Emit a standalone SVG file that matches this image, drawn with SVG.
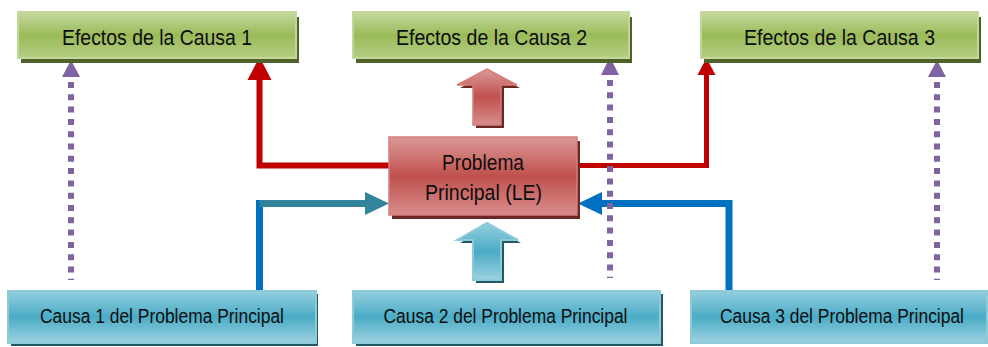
<svg xmlns="http://www.w3.org/2000/svg" width="988" height="347" viewBox="0 0 988 347">
<defs>
<linearGradient id="gGreen" x1="0" y1="0" x2="0" y2="1">
<stop offset="0" stop-color="#c6d9a0"/><stop offset="0.5" stop-color="#9bbb59"/><stop offset="1" stop-color="#b4cd83"/>
</linearGradient>
<linearGradient id="gRed" x1="0" y1="0" x2="0" y2="1">
<stop offset="0" stop-color="#dc9a98"/><stop offset="0.5" stop-color="#c0504d"/><stop offset="1" stop-color="#d88e8c"/>
</linearGradient>
<linearGradient id="gBlue" x1="0" y1="0" x2="0" y2="1">
<stop offset="0" stop-color="#94cfde"/><stop offset="0.5" stop-color="#4bacc6"/><stop offset="1" stop-color="#9dd2e0"/>
</linearGradient>
</defs>
<style>
.green{fill:url(#gGreen);stroke:#c3d79b;stroke-width:2}
.gshadow{fill:#4f6228}
.red{fill:url(#gRed);stroke:#d47f7d;stroke-width:1.5}
.rshadow{fill:#6b2725}
.blue{fill:url(#gBlue);stroke:#8fcadb;stroke-width:2}
.bshadow{fill:#215968}
.lbl{font-family:"Liberation Sans",Arial,sans-serif;font-size:22px;fill:#0d0d0d;text-anchor:middle}
.lbls{font-family:"Liberation Sans",Arial,sans-serif;font-size:21px;fill:#0d0d0d;text-anchor:middle}
.dot{fill:none;stroke:#8064a2;stroke-width:6;stroke-dasharray:6 6.3}
.pur{fill:#8064a2}
</style>
<g id="connectors">
<polyline points="389,165.5 259.5,165.5 259.5,79" fill="none" stroke="#c00000" stroke-width="6"/>
<polygon points="259.5,57 247.5,80 271.5,80" fill="#c00000"/>
<polyline points="577,165.5 706.5,165.5 706.5,73" fill="none" stroke="#c00000" stroke-width="5"/>
<polygon points="706.5,58 697.5,75 715.5,75" fill="#c00000"/>
<line x1="259.5" y1="291" x2="259.5" y2="200" stroke="#0070c0" stroke-width="7"/>
<line x1="259.5" y1="203.5" x2="367" y2="203.5" stroke="#31849b" stroke-width="7"/>
<polygon points="389,203.5 365,192 365,215" fill="#31849b"/>
<polyline points="729,291 729,203.5 600,203.5" fill="none" stroke="#0070c0" stroke-width="7"/>
<polygon points="578,203.5 602,192 602,215" fill="#0070c0"/>
<polygon class="rshadow" points="490,72 520,88 504,88 504,128 476,128 476,88 460,88"/>
<polygon class="red" points="487,69 517,85 501,85 501,125 473,125 473,85 457,85"/>
<polygon class="bshadow" points="490,226 521,243 504,243 504,283 476,283 476,243 460,243"/>
<polygon class="blue" points="487,223 518,240 501,240 501,280 473,280 473,240 457,240"/>
<line class="dot" x1="71" y1="82" x2="71" y2="280"/>
<polygon class="pur" points="71,60 62,77 80,77"/>
<line class="dot" x1="610" y1="80" x2="610" y2="278"/>
<polygon class="pur" points="610,57 601,75 619,75"/>
<line class="dot" x1="937" y1="82" x2="937" y2="280"/>
<polygon class="pur" points="937,60 928,77 946,77"/>
</g>
<g id="efecto1">
<rect class="gshadow" x="21" y="17" width="278" height="46"/>
<rect class="green" x="18" y="12" width="278" height="46"/>
<text class="lbl" x="157" y="45" textLength="190" lengthAdjust="spacingAndGlyphs">Efectos de la Causa 1</text>
</g>
<g id="efecto2">
<rect class="gshadow" x="356" y="17" width="276" height="46"/>
<rect class="green" x="353" y="12" width="276" height="46"/>
<text class="lbl" x="491.5" y="45" textLength="191" lengthAdjust="spacingAndGlyphs">Efectos de la Causa 2</text>
</g>
<g id="efecto3">
<rect class="gshadow" x="704" y="17" width="277" height="46"/>
<rect class="green" x="701" y="12" width="277" height="46"/>
<text class="lbl" x="839.5" y="45" textLength="191" lengthAdjust="spacingAndGlyphs">Efectos de la Causa 3</text>
</g>
<g id="problema">
<rect class="rshadow" x="392" y="141" width="188" height="78"/>
<rect class="red" x="389" y="137" width="188" height="78"/>
<text class="lbl" x="483" y="170" textLength="82" lengthAdjust="spacingAndGlyphs">Problema</text>
<text class="lbl" x="483.5" y="200" textLength="117" lengthAdjust="spacingAndGlyphs">Principal (LE)</text>
</g>
<g id="causa1">
<rect class="bshadow" x="11" y="294" width="307" height="52"/>
<rect class="blue" x="8" y="291" width="308" height="52"/>
<text class="lbls" transform="translate(162,323) scale(0.83,1)">Causa 1 del Problema Principal</text>
</g>
<g id="causa2">
<rect class="bshadow" x="356" y="294" width="307" height="52"/>
<rect class="blue" x="353" y="291" width="307" height="52"/>
<text class="lbls" transform="translate(505.5,323) scale(0.83,1)">Causa 2 del Problema Principal</text>
</g>
<g id="causa3">
<rect class="blue" x="691" y="291" width="296" height="52"/>
<text class="lbls" transform="translate(842,323) scale(0.83,1)">Causa 3 del Problema Principal</text>
</g>
</svg>
